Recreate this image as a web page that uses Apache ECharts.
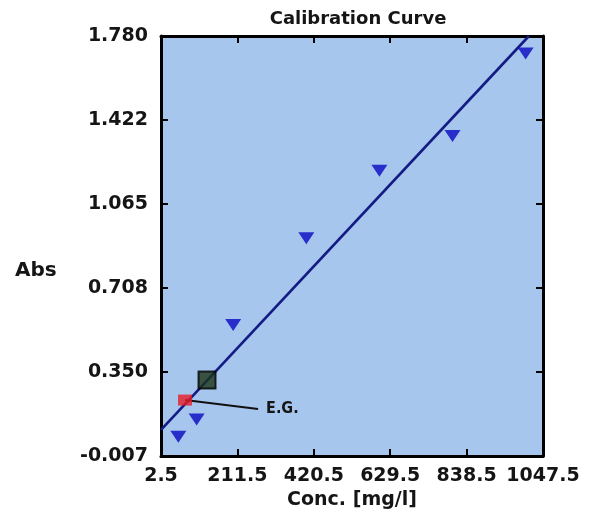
<!DOCTYPE html>
<html>
<head>
<meta charset="utf-8">
<script src="https://cdn.jsdelivr.net/npm/echarts@6/dist/echarts.min.js"></script>
<style>
html,body{margin:0;padding:0;background:#fff;}
#chart{width:597px;height:509px;}
</style>
</head>
<body>
<div id="chart"></div>
<script>
// ---- data ----
const concX = [50, 100, 200, 400, 600, 800, 1000];
const absY = [0.075, 0.148, 0.550, 0.919, 1.207, 1.355, 1.706];
const fitX = [2.5, 1009];
const fitY = [0.104, 1.780];
const sampleX = [128.4];
const sampleY = [0.316];
const egX = [68.2];
const egY = [0.231];
const egLabelX = [268];
const egLabelY = [0.193];
const xTicks = [2.5, 211.5, 420.5, 629.5, 838.5, 1047.5];
const yTicks = [-0.007, 0.350, 0.708, 1.065, 1.422, 1.780];
const titleText = 'Calibration Curve';
const xName = 'Conc. [mg/l]';
const yName = 'Abs';
const egName = 'E.G.';

const FONT = 'DejaVu Sans';
const zip = (a, b) => a.map((v, i) => [v, b[i]]);

const chart = echarts.init(document.getElementById('chart'), null, {renderer: 'canvas'});

const axisCommon = {
  type: 'value',
  axisLine: {show: true, onZero: false, lineStyle: {color: '#000', width: 3}},
  splitLine: {show: false},
};
const tickStyle = {color: '#000', width: 2};

chart.setOption({
  backgroundColor: '#ffffff',
  animation: false,
  title: {
    text: titleText,
    left: 353,
    top: 5,
    textAlign: 'center',
    textStyle: {fontFamily: FONT, fontSize: 18, fontWeight: 'bold', color: '#151515'}
  },
  grid: {
    left: 161, top: 36, width: 382, height: 420,
    show: true, backgroundColor: '#a6c6ee', borderWidth: 0,
    containLabel: false, outerBoundsMode: 'none'
  },
  xAxis: [
    Object.assign({}, axisCommon, {
      position: 'bottom',
      min: xTicks[0], max: xTicks[xTicks.length - 1],
      name: xName, nameLocation: 'middle', nameGap: 29,
      nameTextStyle: {fontFamily: FONT, fontSize: 19, fontWeight: 'bold', color: '#151515'},
      axisTick: {show: true, inside: true, length: 7, lineStyle: tickStyle, customValues: xTicks},
      axisLabel: {show: true, customValues: xTicks, margin: 11, fontFamily: FONT, fontSize: 19,
        fontWeight: 'bold', color: '#151515', formatter: v => v.toFixed(1)}
    }),
    Object.assign({}, axisCommon, {
      position: 'top',
      min: xTicks[0], max: xTicks[xTicks.length - 1],
      axisTick: {show: true, inside: true, length: 7, lineStyle: tickStyle, customValues: xTicks},
      axisLabel: {show: false}
    })
  ],
  yAxis: [
    Object.assign({}, axisCommon, {
      position: 'left',
      min: yTicks[0], max: yTicks[yTicks.length - 1],
      axisTick: {show: true, inside: true, length: 7, lineStyle: tickStyle, customValues: yTicks},
      axisLabel: {show: true, customValues: yTicks, margin: 13, fontFamily: FONT, fontSize: 19,
        fontWeight: 'bold', color: '#151515', formatter: v => v.toFixed(3)}
    }),
    Object.assign({}, axisCommon, {
      position: 'right',
      min: yTicks[0], max: yTicks[yTicks.length - 1],
      axisTick: {show: true, inside: true, length: 7, lineStyle: tickStyle, customValues: yTicks},
      axisLabel: {show: false}
    })
  ],
  graphic: [{
    type: 'text', left: 15, top: 261,
    style: {text: yName, font: 'bold 20px "DejaVu Sans"', fill: '#151515'}
  }],
  series: [
    {
      name: 'fit', type: 'line', xAxisIndex: 0, yAxisIndex: 0,
      data: zip(fitX, fitY), showSymbol: false, symbol: 'none', clip: true,
      lineStyle: {color: '#141c84', width: 2.6}, z: 2
    },
    {
      name: 'eg-pointer', type: 'line', xAxisIndex: 0, yAxisIndex: 0,
      data: zip(egX.concat(egLabelX), egY.concat(egLabelY)), showSymbol: false, symbol: 'none',
      lineStyle: {color: '#111', width: 2}, z: 3,
      endLabel: {show: true, formatter: egName, distance: 8,
        fontFamily: 'DejaVu Sans Condensed', fontSize: 16, fontWeight: 'bold', color: '#151515'}
    },
    {
      name: 'standards', type: 'scatter', xAxisIndex: 0, yAxisIndex: 0,
      data: zip(concX, absY), symbol: 'triangle', symbolRotate: 180, symbolSize: [16, 12],
      itemStyle: {color: '#0808c0'}, z: 4
    },
    {
      name: 'sample', type: 'scatter', xAxisIndex: 0, yAxisIndex: 0,
      data: zip(sampleX, sampleY), symbol: 'rect', symbolSize: 17,
      itemStyle: {color: '#1c3418', borderColor: '#000', borderWidth: 2}, z: 5
    },
    {
      name: 'eg', type: 'scatter', xAxisIndex: 0, yAxisIndex: 0,
      data: zip(egX, egY), symbol: 'rect', symbolSize: [14, 11],
      itemStyle: {color: '#e81c24'}, z: 5
    }
  ]
});
</script>
</body>
</html>
